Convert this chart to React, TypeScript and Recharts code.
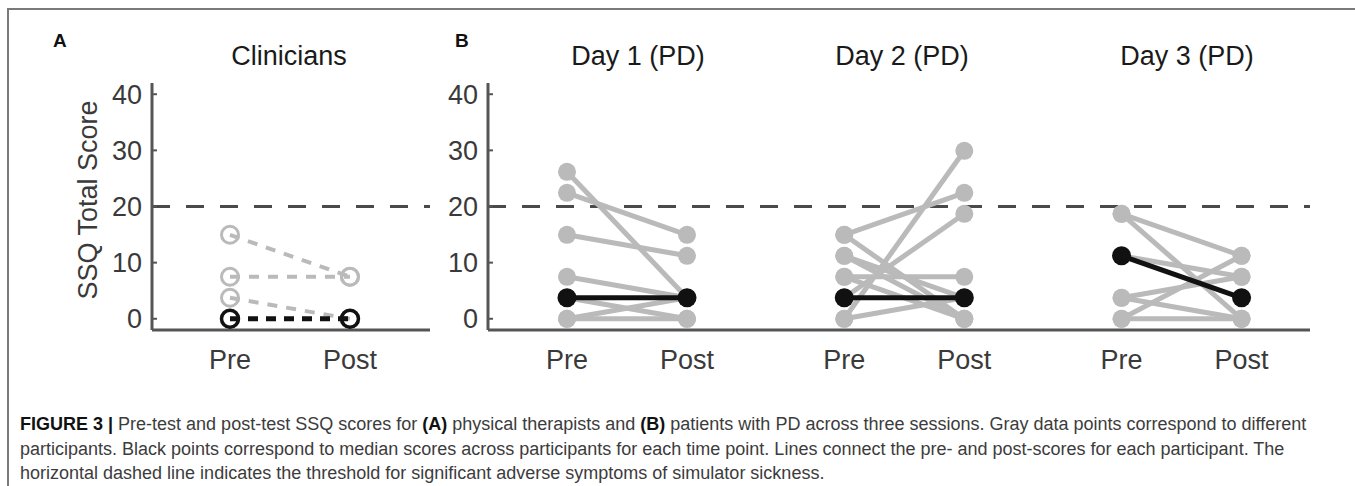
import React from "react";
import {
  ScatterChart,
  Scatter,
  XAxis,
  YAxis,
  ReferenceLine,
} from "recharts";

// SSQ totals are multiples of 3.74
const clinPre = [14.96, 7.48, 3.74];
const clinPost = [7.48, 7.48, 0];
const clinMedian = [0, 0];

const day1Pre = [26.18, 22.44, 14.96, 7.48, 3.74, 0, 0];
const day1Post = [3.74, 14.96, 11.22, 3.74, 0, 3.74, 0];
const day1Median = [3.74, 3.74];

const day2Pre = [0, 14.96, 3.74, 7.48, 14.96, 11.22, 11.22, 0, 7.48];
const day2Post = [29.92, 22.44, 18.7, 7.48, 0, 3.74, 0, 3.74, 0];
const day2Median = [3.74, 3.74];

const day3Pre = [18.7, 18.7, 11.22, 3.74, 0, 0, 3.74];
const day3Post = [11.22, 0, 7.48, 0, 11.22, 0, 7.48];
const day3Median = [11.22, 3.74];

const yTicks = [0, 10, 20, 30, 40];
const threshold = 20;
const timeLabels = ["Pre", "Post"];
const sessionTitles = ["Day 1 (PD)", "Day 2 (PD)", "Day 3 (PD)"];
const sessionOffset = [0, 2.31, 4.62];

const GRAY = "#bababa";
const AXIS = "#555555";
const TEXT = "#3a3a3a";
const FONT = "'Liberation Sans', Arial, Helvetica, sans-serif";

type Pt = { x: number; y: number };

function pairs(pre: number[], post: number[], off: number): Pt[][] {
  return pre.map((v, i) => [
    { x: off, y: v },
    { x: off + 1, y: post[i] },
  ]);
}

const dot =
  (r: number, fill: string, stroke: string, sw: number) => (p: any) =>
    (
      <circle
        cx={p.cx}
        cy={p.cy}
        r={r}
        fill={fill}
        stroke={stroke}
        strokeWidth={sw}
      />
    );

const YTick = (p: any) => {
  const { x, y, payload } = p;
  return (
    <g>
      <line x1={x + 10} x2={x + 15} y1={y} y2={y} stroke={AXIS} strokeWidth={2} />
      <text
        x={x}
        y={y}
        dy="0.36em"
        textAnchor="end"
        fontSize={27}
        fill={TEXT}
        fontFamily={FONT}
      >
        {payload.value}
      </text>
    </g>
  );
};

const xTickFmt = (_v: number, i: number) => timeLabels[i % 2];

function axes(domain: [number, number], ticks: number[]) {
  return [
    <XAxis
      key="x"
      type="number"
      dataKey="x"
      domain={domain}
      ticks={ticks}
      interval={0}
      allowDataOverflow
      height={40}
      tickSize={0}
      tickMargin={20}
      tickFormatter={xTickFmt}
      axisLine={{ stroke: AXIS, strokeWidth: 3 }}
      tick={{ fontSize: 27, fill: TEXT, fontFamily: FONT }}
    />,
    <YAxis
      key="y"
      type="number"
      dataKey="y"
      domain={[-2, 42]}
      ticks={yTicks}
      interval={0}
      width={50}
      tickSize={0}
      tickMargin={10}
      tickLine={false}
      axisLine={{ stroke: AXIS, strokeWidth: 3 }}
      tick={<YTick />}
    />,
    <ReferenceLine
      key="thr"
      y={threshold}
      stroke="#4a4a4a"
      strokeWidth={3}
      strokeDasharray="18 16"
    />,
  ];
}

const titleStyle = (cx: number): React.CSSProperties => ({
  position: "absolute",
  left: cx - 150,
  top: 43,
  width: 300,
  textAlign: "center",
  fontSize: 27,
  lineHeight: "27px",
  color: "#1a1a1a",
  fontFamily: FONT,
});

const letterStyle = (left: number): React.CSSProperties => ({
  position: "absolute",
  left,
  top: 31,
  fontSize: 19,
  lineHeight: "19px",
  fontWeight: "bold",
  color: "#111",
});

const captionLine: React.CSSProperties = {
  position: "absolute",
  left: 20,
  whiteSpace: "nowrap",
  fontSize: 18,
  lineHeight: "20px",
  color: "#3c3c3c",
  fontFamily: "'Liberation Sans Narrow', 'Liberation Sans', Arial, sans-serif",
};

export default function App() {
  const clinLines = pairs(clinPre, clinPost, 0);
  const clinMed = pairs([clinMedian[0]], [clinMedian[1]], 0)[0];

  const days = [
    { pre: day1Pre, post: day1Post, med: day1Median },
    { pre: day2Pre, post: day2Post, med: day2Median },
    { pre: day3Pre, post: day3Post, med: day3Median },
  ];
  const dayLines = days.flatMap((d, s) => pairs(d.pre, d.post, sessionOffset[s]));
  const dayMeds = days.map((d, s) => pairs([d.med[0]], [d.med[1]], sessionOffset[s])[0]);
  const dayTicks = sessionOffset.flatMap((o) => [o, o + 1]);

  return (
    <div
      style={{
        position: "absolute",
        left: 0,
        top: 0,
        width: 1355,
        height: 486,
        background: "#fff",
        overflow: "hidden",
        fontFamily: FONT,
      }}
    >
      <div
        style={{
          position: "absolute",
          left: 7,
          top: 8,
          width: 1360,
          height: 500,
          borderLeft: "2px solid #7a7a7a",
          borderTop: "2px solid #7a7a7a",
        }}
      />

      <div style={letterStyle(53)}>A</div>
      <div style={letterStyle(455)}>B</div>

      <div style={titleStyle(289)}>Clinicians</div>
      {sessionTitles.map((t, i) => (
        <div key={t} style={titleStyle([638, 902, 1187][i])}>
          {t}
        </div>
      ))}

      <div
        style={{
          position: "absolute",
          left: 88 - 150,
          top: 200 - 15,
          width: 300,
          height: 30,
          lineHeight: "30px",
          textAlign: "center",
          fontSize: 27,
          color: TEXT,
          transform: "rotate(-90deg)",
        }}
      >
        SSQ Total Score
      </div>

      <div style={{ position: "absolute", left: 0, top: 0 }}>
        <ScatterChart
          width={450}
          height={400}
          margin={{ top: 83, right: 20, bottom: 30, left: 102 }}
        >
          {axes([-0.65, 1.667], [0, 1])}
          {clinLines.map((d, i) => (
            <Scatter
              key={"c" + i}
              data={d}
              fill={GRAY}
              line={{ stroke: GRAY, strokeWidth: 4, strokeDasharray: "10 9" }}
              shape={dot(8.5, "none", GRAY, 3)}
              isAnimationActive={false}
            />
          ))}
          <Scatter
            data={clinMed}
            fill="#111"
            line={{ stroke: "#111", strokeWidth: 5, strokeDasharray: "10 8" }}
            shape={dot(8.5, "none", "#111", 3.5)}
            isAnimationActive={false}
          />
        </ScatterChart>
      </div>

      <div style={{ position: "absolute", left: 400, top: 0 }}>
        <ScatterChart
          width={940}
          height={400}
          margin={{ top: 83, right: 30, bottom: 30, left: 38 }}
        >
          {axes([-0.658, 6.19], dayTicks)}
          {dayLines.map((d, i) => (
            <Scatter
              key={"d" + i}
              data={d}
              fill={GRAY}
              line={{ stroke: GRAY, strokeWidth: 5 }}
              shape={dot(9, GRAY, "none", 0)}
              isAnimationActive={false}
            />
          ))}
          {dayMeds.map((d, i) => (
            <Scatter
              key={"m" + i}
              data={d}
              fill="#111"
              line={{ stroke: "#111", strokeWidth: 5 }}
              shape={dot(9.5, "#111", "none", 0)}
              isAnimationActive={false}
            />
          ))}
        </ScatterChart>
      </div>

      <div style={{ ...captionLine, top: 414 }}>
        <b style={{ color: "#111" }}>FIGURE 3 |</b> Pre-test and post-test SSQ scores for{" "}
        <b style={{ color: "#111" }}>(A)</b> physical therapists and{" "}
        <b style={{ color: "#111" }}>(B)</b> patients with PD across three sessions. Gray data points
        correspond to different
      </div>
      <div style={{ ...captionLine, top: 439 }}>
        participants. Black points correspond to median scores across participants for each time
        point. Lines connect the pre- and post-scores for each participant. The
      </div>
      <div style={{ ...captionLine, top: 463 }}>
        horizontal dashed line indicates the threshold for significant adverse symptoms of simulator
        sickness.
      </div>
    </div>
  );
}
